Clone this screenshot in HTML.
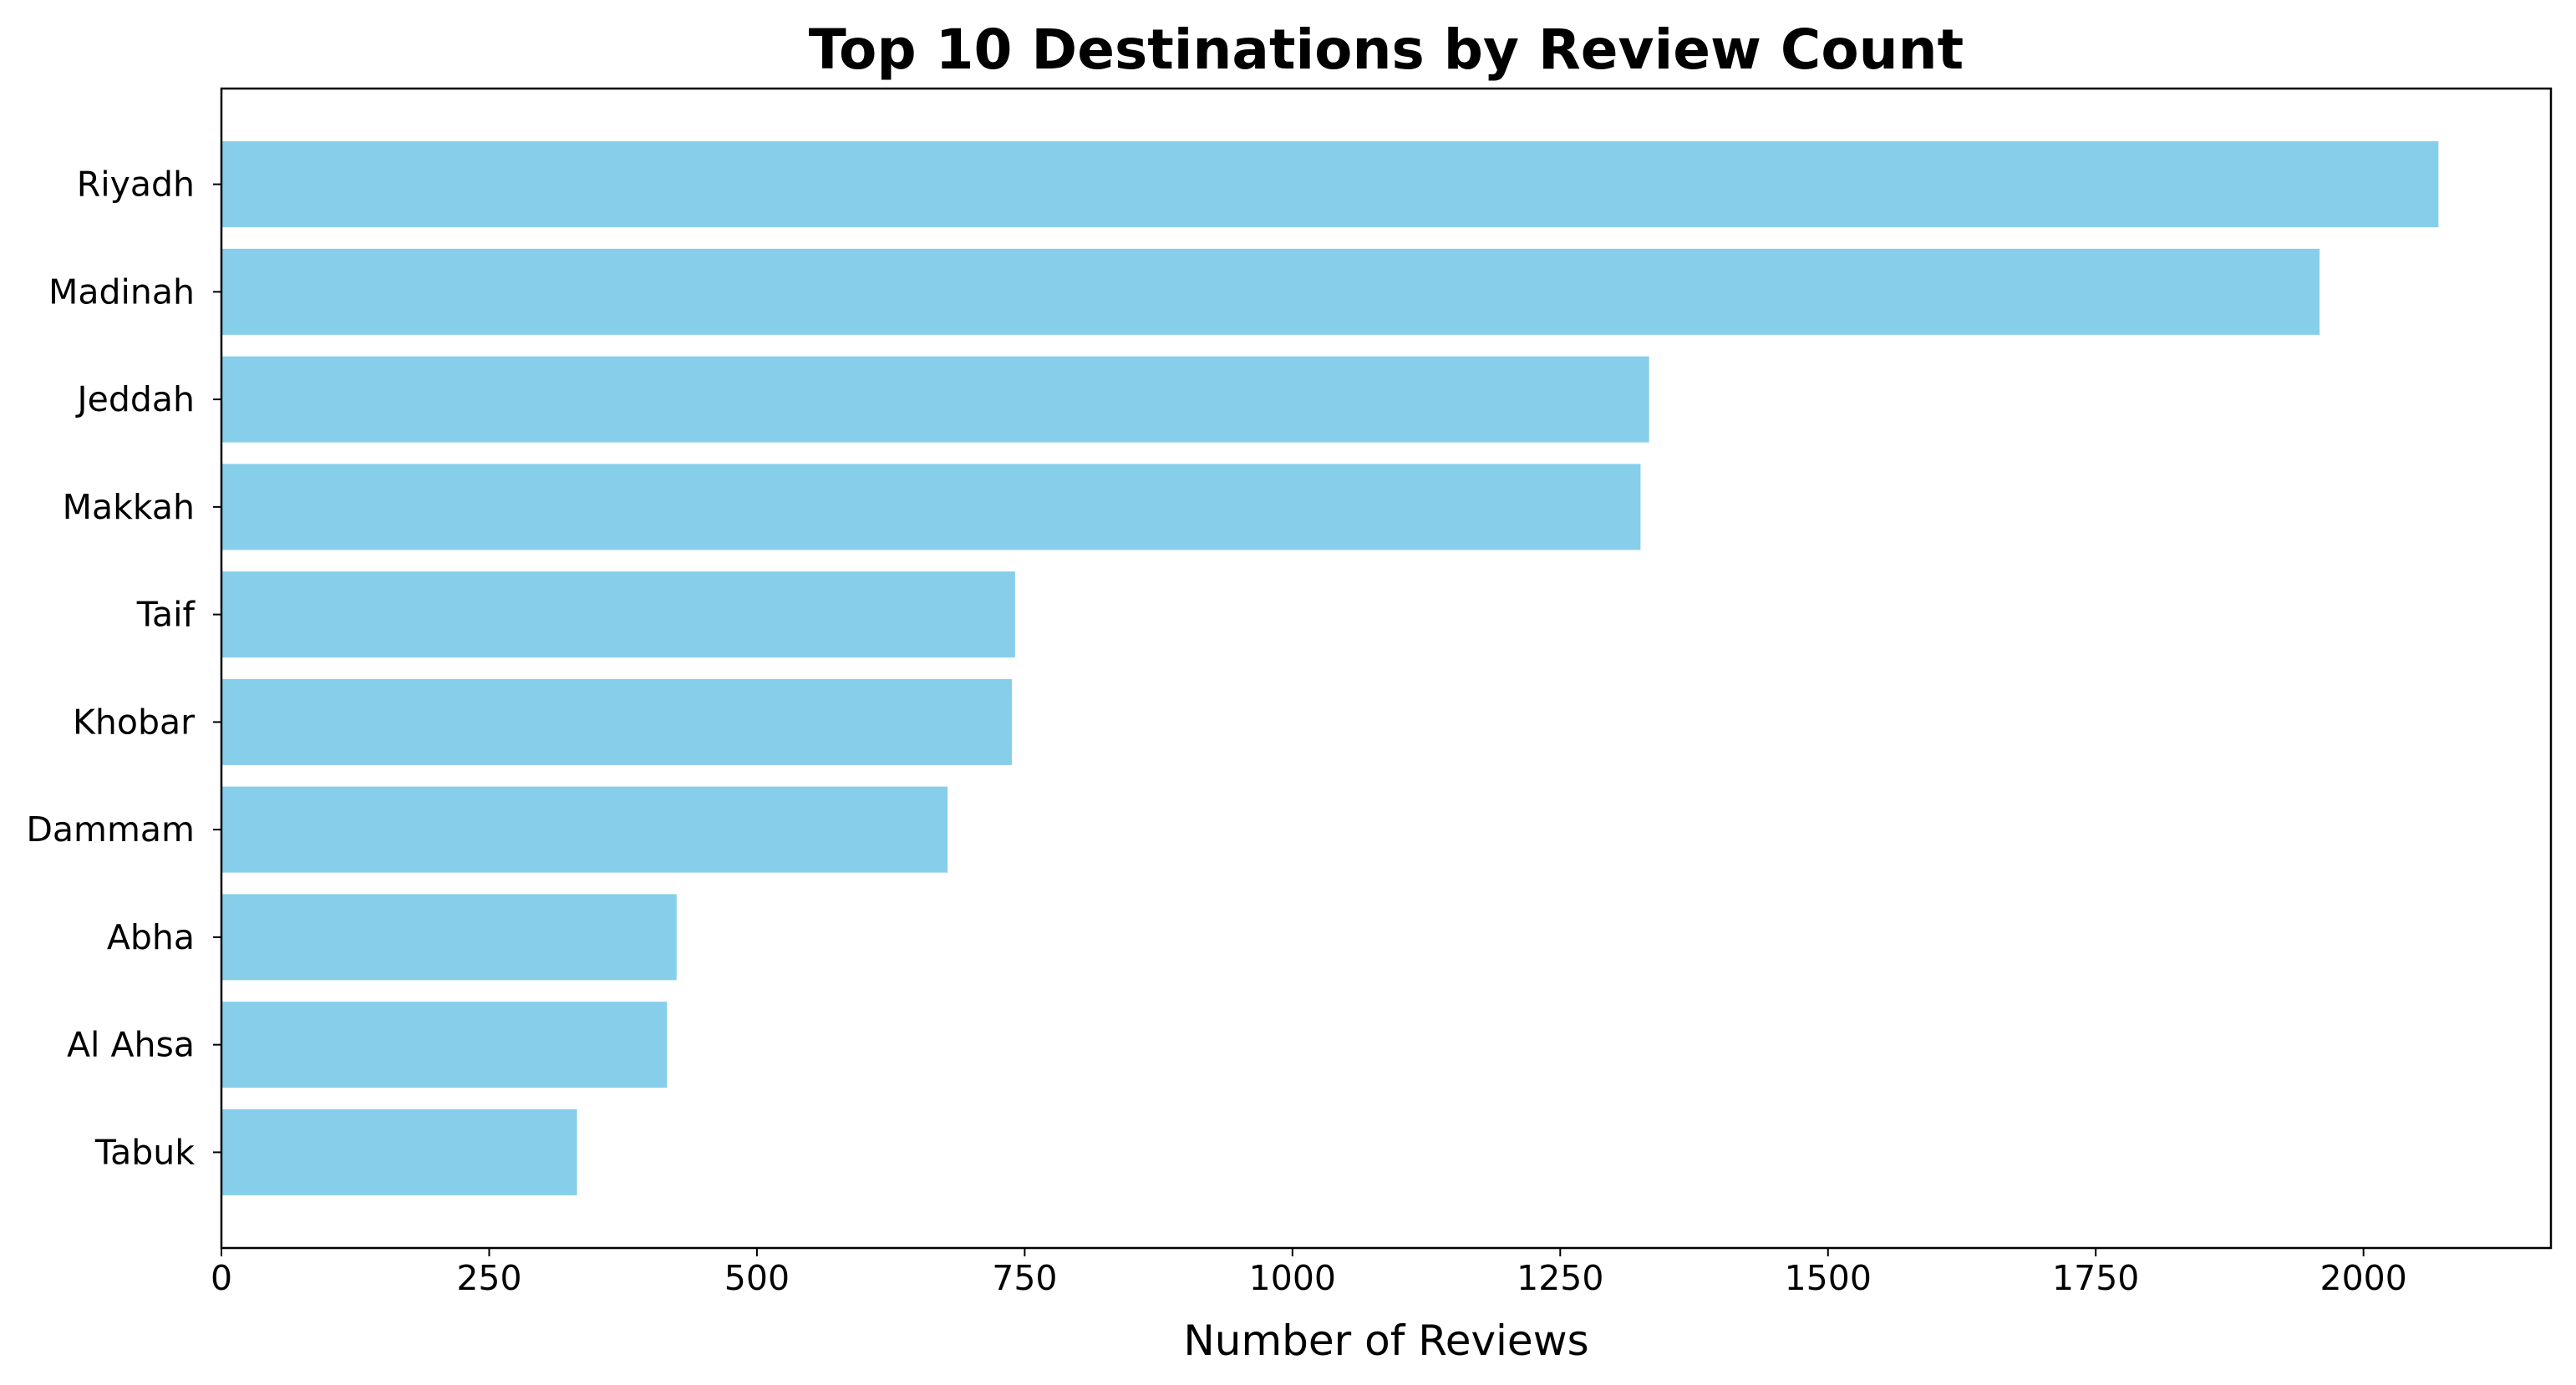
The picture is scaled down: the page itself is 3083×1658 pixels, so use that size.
<!DOCTYPE html>
<html><head><meta charset="utf-8"><style>
body{margin:0;background:#fff}
svg{display:block;font-family:"DejaVu Sans","Liberation Sans",sans-serif}
</style></head><body>
<svg id="chart" width="3083" height="1658" viewBox="0 0 3083 1658">
<rect width="3083" height="1658" fill="#fff"/>
<text x="1659" y="82" text-anchor="middle" font-size="66" font-weight="bold">Top 10 Destinations by Review Count</text>
<g id="bars"></g>
<g id="axes"></g>
<text x="1659" y="1622" text-anchor="middle" font-size="50">Number of Reviews</text>
</svg>
<script>
const categories = ["Riyadh","Madinah","Jeddah","Makkah","Taif","Khobar","Dammam","Abha","Al Ahsa","Tabuk"];
const reviewCounts = [2070,1959,1333,1325,741,738,678,425,416,332];
const xTicks = [0,250,500,750,1000,1250,1500,1750,2000];
const xMax = 2175;

const L=265,R=3053,T=106,B=1494;
const NS="http://www.w3.org/2000/svg";
const xs=v=>L+v/xMax*(R-L);
const n=categories.length;
const yLo=-0.89,yHi=n-1+0.89;
const ys=i=>T+(i-yLo)/(yHi-yLo)*(B-T);
const unit=(B-T)/(yHi-yLo);
function mk(tag,attrs,parent){const e=document.createElementNS(NS,tag);for(const k in attrs)e.setAttribute(k,attrs[k]);parent.appendChild(e);return e;}
const bars=document.getElementById('bars'),axes=document.getElementById('axes');
categories.forEach((c,i)=>{
  const cy=ys(i);
  const r=mk('rect',{x:L,y:cy-0.4*unit,width:xs(reviewCounts[i])-L,height:0.8*unit,fill:'#87ceeb'},bars);
  
  
  mk('line',{x1:L,x2:L-10,y1:cy,y2:cy,stroke:'#000','stroke-width':2},axes);
  const t=mk('text',{x:L-32,y:cy+14,'text-anchor':'end','font-size':41},axes);
  t.textContent=c;
  
  
});
xTicks.forEach(v=>{
  const x=xs(v);
  mk('line',{x1:x,x2:x,y1:B,y2:B+10,stroke:'#000','stroke-width':2},axes);
  const t=mk('text',{x:x,y:B+50,'text-anchor':'middle','font-size':41},axes);
  t.textContent=v;
  
  
});
const fr=mk('rect',{x:L,y:T,width:R-L,height:B-T,fill:'none',stroke:'#000','stroke-width':2.5},axes);


</script>
</body></html>
